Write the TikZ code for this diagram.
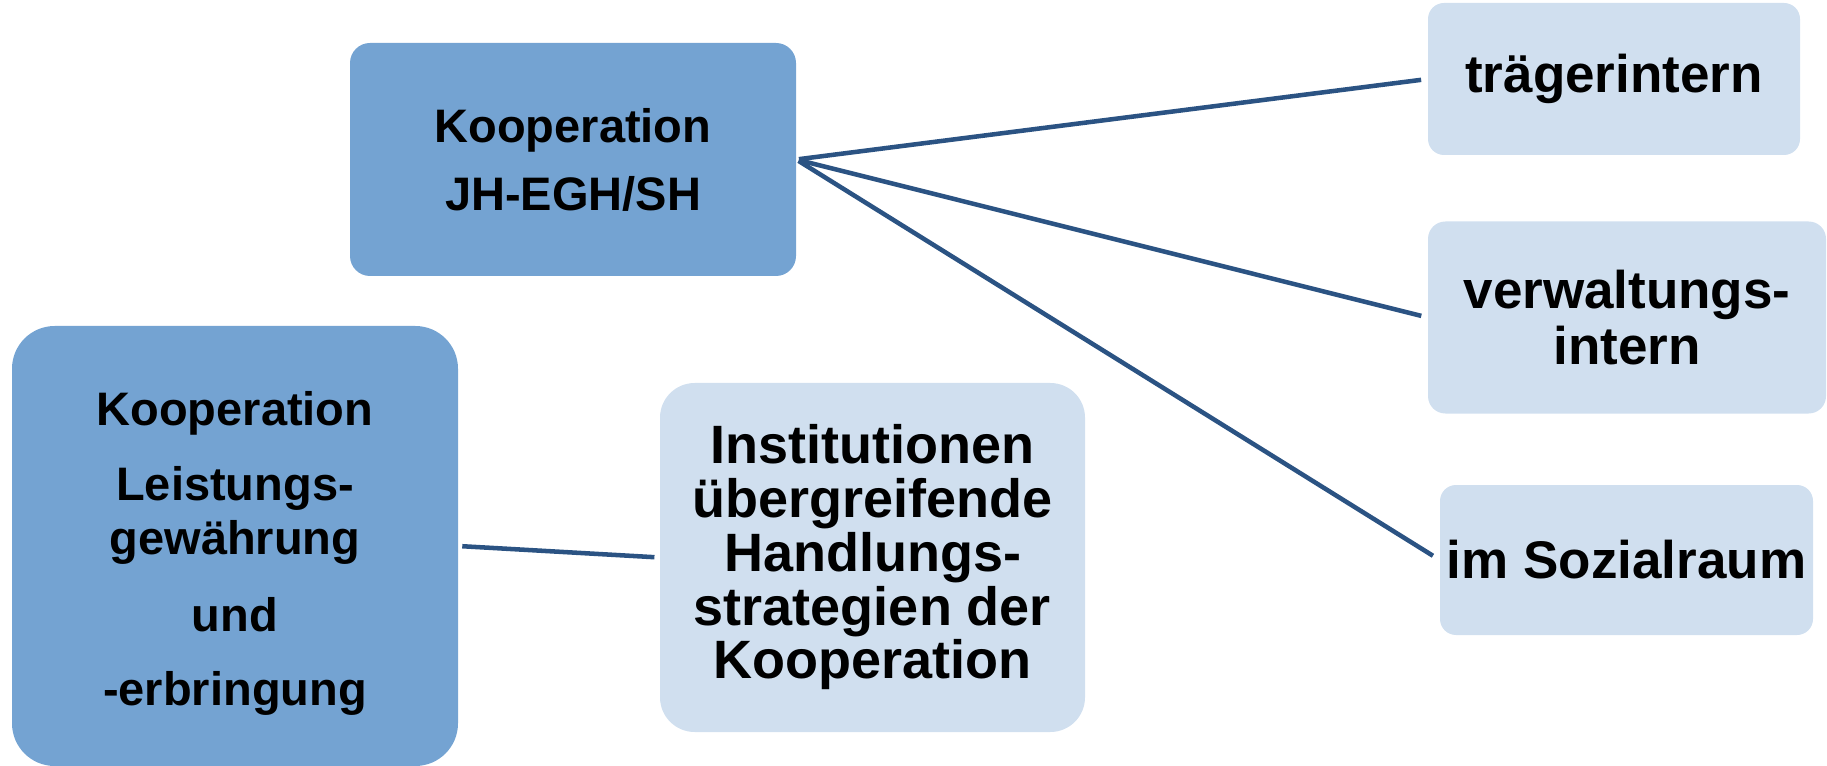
\documentclass[tikz,border=0pt]{standalone}
\usepackage{fontspec}
\setmainfont{Liberation Sans}
\definecolor{darkfill}{HTML}{74A3D2}
\definecolor{lightfill}{HTML}{D0DFEF}
\definecolor{linec}{HTML}{2B5383}
\begin{document}
\begin{tikzpicture}[x=0.75pt,y=-0.75pt,
  box/.style={rectangle, inner sep=0pt, align=center},
  darkbox/.style={box, fill=darkfill},
  lightbox/.style={box, fill=lightfill},
  conn/.style={draw=linec, line width=3.4pt}]
\useasboundingbox (0,0) rectangle (1827,766);
\node[darkbox, minimum width=334.5pt, minimum height=174.75pt, rounded corners=15pt,
  font=\bfseries\fontsize{35.25}{51}\selectfont] (A) at (573,159.5) {Kooperation\\JH-EGH/SH};
\node[darkbox, minimum width=334.5pt, minimum height=330pt, rounded corners=32pt,
  font=\bfseries\fontsize{35.25}{40.5}\selectfont] (B) at (235,546)
  {\rule{0pt}{36pt}Kooperation\\[16pt]Leistungs-\\gewährung\\[17pt]und\\[15pt]-erbringung};
\node[lightbox, minimum width=318.75pt, minimum height=261.75pt, rounded corners=26pt,
  font=\bfseries\fontsize{40.5}{40.3}\selectfont] (C) at (872.5,557.5)
  {Institutionen\\übergreifende\\Handlungs-\\strategien der\\Kooperation};
\node[lightbox, minimum width=279pt, minimum height=114pt, rounded corners=12pt,
  font=\bfseries\fontsize{39.75}{42}\selectfont] (D) at (1614,79) {trägerintern};
\node[lightbox, minimum width=298.5pt, minimum height=144pt, rounded corners=13pt,
  font=\bfseries\fontsize{39.75}{42}\selectfont] (E) at (1627,317.5) {verwaltungs-\\intern};
\node[lightbox, minimum width=279.75pt, minimum height=112.5pt, rounded corners=12pt,
  font=\bfseries\fontsize{39.75}{42}\selectfont] (F) at (1626.5,560) {im Sozialraum};
\draw[conn, shorten <=2pt, shorten >=5pt] (A.east) -- (D.west);
\draw[conn, shorten <=2pt, shorten >=5pt] (A.east) -- (E.west);
\draw[conn, shorten <=2pt, shorten >=6pt] (A.east) -- (F.west);
\draw[conn, shorten <=3pt, shorten >=4pt] (B.east) -- (C.west);
\end{tikzpicture}
\end{document}
